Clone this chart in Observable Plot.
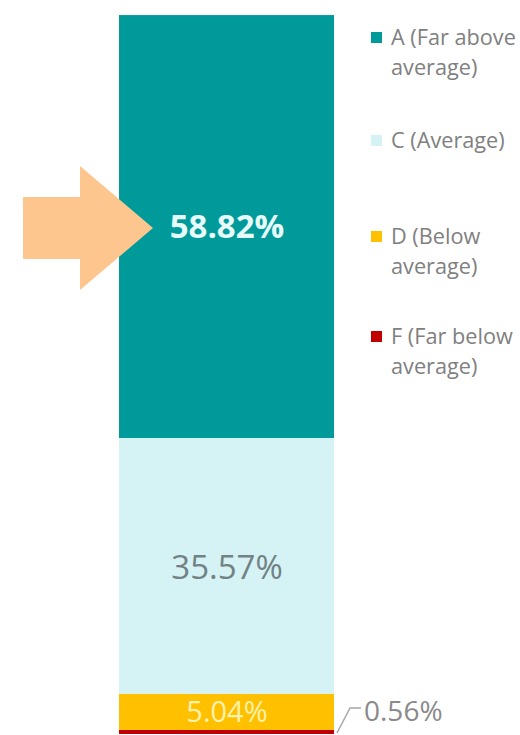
<!DOCTYPE html>
<html><head><meta charset="utf-8">
<script src="https://cdn.jsdelivr.net/npm/d3@7"></script>
<script src="https://cdn.jsdelivr.net/npm/@observablehq/plot@0.6"></script>
<style>
body{margin:0;background:#fff;font-family:"Open Sans",sans-serif;}
#wrap{position:relative;width:520px;height:735px;overflow:hidden}
#wrap svg{display:block}
.leg{position:absolute;left:371px;font-size:21.7px;line-height:30px;color:#808080;font-family:"Open Sans",sans-serif}
.leg .sw{position:absolute;left:0;top:10px;width:11px;height:11px}
.leg .tx{position:absolute;left:20px;top:0;white-space:nowrap}
</style></head><body><div id="wrap"></div>
<script>
// ---- data ----
const groupName = "Grades";
const grades = ["F", "D", "C", "A"];            // bottom to top
const values = [0.56, 5.04, 35.57, 58.82];       // percent
const valueLabels = ["0.56%", "5.04%", "35.57%", "58.82%"];
const colors = ["#c00000", "#ffc000", "#d5f2f4", "#009a9a"];
const legendOrder = ["A", "C", "D", "F"];
const legendText = [["A (Far above", "average)"], ["C (Average)"], ["D (Below", "average)"], ["F (Far below", "average)"]];
const highlighted = "A";

const data = grades.map((g, i) => ({group: groupName, grade: g, value: values[i], label: valueLabels[i]}));

// cumulative midpoints (data space)
const cum = d3.cumsum(values);
const mid = g => { const i = grades.indexOf(g); return cum[i] - values[i] / 2; };

const labelFor = g => d => d.grade === g ? d.label : "";

const annotations = (index, scales) => {
  const {x, y} = scales;
  const bx0 = x(groupName), bx1 = bx0 + x.bandwidth();
  const g = d3.create("svg:g");
  // block arrow pointing at highlighted segment label
  const tx = bx0 + 34, ty = y(mid(highlighted)) + 1.5;
  const pts = [[tx, ty], [tx - 73, ty - 62], [tx - 73, ty - 31], [tx - 130, ty - 31],
               [tx - 130, ty + 31], [tx - 73, ty + 31], [tx - 73, ty + 62]];
  g.append("polygon").attr("points", pts.map(p => p.join(",")).join(" ")).attr("fill", "#fdc68f");
  // leader line for the tiny segment
  const yF = y(mid("F"));
  g.append("path")
    .attr("d", `M${bx1 + 3},${yF + 1}L${bx1 + 16},${yF - 24}L${bx1 + 27},${yF - 24}`)
    .attr("fill", "none").attr("stroke", "#a6a6a6").attr("stroke-width", 1.5);
  return g.node();
};

const plot = Plot.plot({
  width: 520, height: 735,
  marginTop: 15, marginBottom: 1, marginLeft: 0, marginRight: 0,
  x: {type: "band", domain: [groupName], range: [119, 334], padding: 0, axis: null},
  y: {domain: [0, 100], axis: null},
  color: {domain: grades, range: colors},
  style: {fontFamily: "Open Sans", background: "transparent", overflow: "visible"},
  marks: [
    Plot.barY(data, {x: "group", y: "value", fill: "grade"}),
    Plot.text(data, Plot.stackY({x: "group", y: "value", z: "grade", text: labelFor("A"), fill: "#e8fbfb", fontSize: 33, fontWeight: "bold"})),
    Plot.text(data, Plot.stackY({x: "group", y: "value", z: "grade", text: labelFor("C"), fill: "#728284", fontSize: 33, dy: 2})),
    Plot.text(data, Plot.stackY({x: "group", y: "value", z: "grade", text: labelFor("D"), fill: "#fff2ad", fontSize: 29})),
    Plot.text(data, Plot.stackY({x: "group", y: "value", z: "grade", text: labelFor("F"), fill: "#8a8a8a", fontSize: 28, textAnchor: "start", dx: 137, dy: -20})),
    annotations
  ]
});

const wrap = document.getElementById("wrap");
wrap.appendChild(plot);

// legend (HTML overlay)
const legendTops = [22, 125, 221, 321];
legendOrder.forEach((g, k) => {
  const i = grades.indexOf(g);
  const item = document.createElement("div");
  item.className = "leg";
  item.style.top = legendTops[k] + "px";
  const sw = document.createElement("div");
  sw.className = "sw";
  sw.style.background = colors[i];
  const tx = document.createElement("div");
  tx.className = "tx";
  tx.innerHTML = legendText[k].join("<br>");
  item.appendChild(sw); item.appendChild(tx);
  wrap.appendChild(item);
});
</script></body></html>
